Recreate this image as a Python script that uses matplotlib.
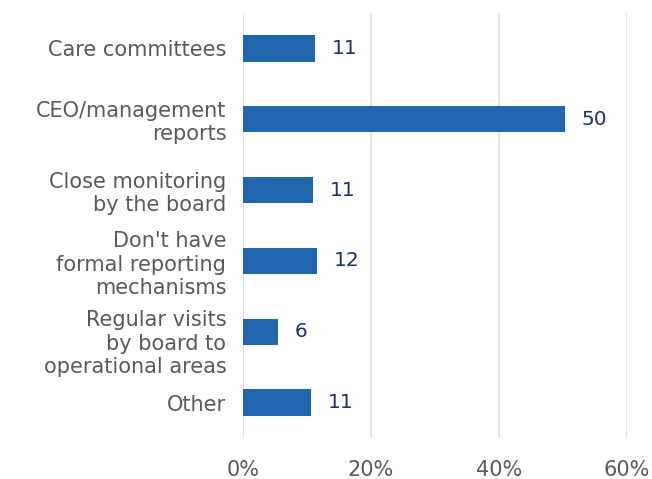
import matplotlib
matplotlib.use("Agg")
import matplotlib.pyplot as plt
import numpy as np

# 各類別與數值（百分比）
categories = ["Care committees", "CEO/management\nreports", "Close monitoring\nby the board",
              "Don't have\nformal reporting\nmechanisms", "Regular visits\nby board to\noperational areas",
              "Other"]
values = [11.2, 50.3, 10.9, 11.6, 5.5, 10.6]
xticks = [0, 20, 40, 60]

bar_color = "#1f66ad"
label_color = "#1a3366"
tick_color = "#595959"
grid_color = "#e6e3de"

fig = plt.figure(figsize=(6.52, 4.79), dpi=100)
ax = fig.add_axes([0.3727, 0.0856, 0.589, 0.8873])

y = np.arange(len(categories))
ax.barh(y, values, height=0.37, color=bar_color, zorder=3)

for yi, v in zip(y, values):   # 數值標籤
    ax.annotate(f"{v:.0f}", (v, yi), xytext=(12, 0), textcoords="offset points",
                va="center", ha="left", fontsize=14.5, color=label_color)

ax.set_ylim(len(categories) - 0.5, -0.5)
ax.set_xlim(0, 60)
ax.set_xticks(xticks)
ax.set_xticklabels([f"{t}%" for t in xticks])
ax.set_yticks(y)
# 第5個標籤原圖往下偏一點，另外用 annotate 畫
ylabels = [c if i != 4 else "" for i, c in enumerate(categories)]
ax.set_yticklabels(ylabels, linespacing=1.2)
ax.annotate(categories[4], (0, y[4]), xycoords=("axes fraction", "data"),
            xytext=(-12, -8.5), textcoords="offset points", ha="right", va="center",
            fontsize=15, color=tick_color, linespacing=1.2)

ax.grid(axis="x", color=grid_color, linewidth=1.3, zorder=0)
ax.axvline(0, color=grid_color, linewidth=1.3, zorder=1)
for s in ax.spines.values():
    s.set_visible(False)
ax.tick_params(axis="x", length=0, pad=16, labelsize=15, labelcolor=tick_color)
ax.tick_params(axis="y", length=0, pad=12, labelsize=15, labelcolor=tick_color)

fig.savefig("out.png", dpi=100)
